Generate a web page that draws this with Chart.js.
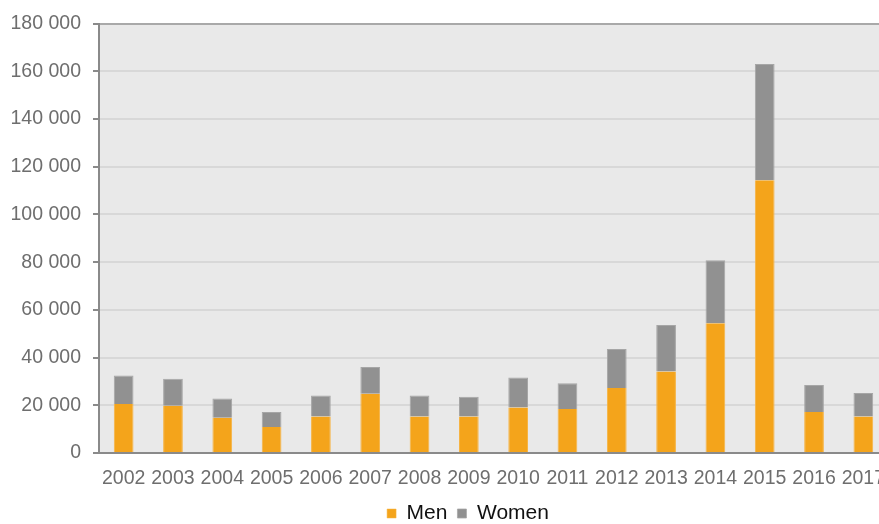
<!DOCTYPE html>
<html>
<head>
<meta charset="utf-8">
<script src="https://cdn.jsdelivr.net/npm/chart.js@4/dist/chart.umd.min.js"></script>
<style>
  html, body { margin: 0; padding: 0; background: #fff; overflow: hidden; }
  #chart { width: 888px; height: 524px; }
</style>
</head>
<body>
<canvas id="chart" width="888" height="524"></canvas>
<script>
// values
const years = ['2002', '2003', '2004', '2005', '2006', '2007', '2008', '2009',
               '2010', '2011', '2012', '2013', '2014', '2015', '2016', '2017'];
const men = [20500, 19800, 14800, 10900, 15300, 24800, 15300, 15300,
             19100, 18400, 27300, 34200, 54400, 114400, 17200, 15300];
const women = [12000, 11300, 8100, 6300, 8800, 11300, 8800, 8300,
               12600, 10800, 16300, 19500, 26400, 48700, 11300, 9900];

const plotBg = {
    id: 'plotBg',
    afterLayout(chart) {
        // legend in the original sits a bit right of the page centre
        chart.legend.left += 24;
        chart.legend.right += 24;
    },
    beforeDraw(chart) {
        const a = chart.chartArea;
        const ctx = chart.ctx;
        ctx.save();
        ctx.fillStyle = '#e9e9e9';
        ctx.fillRect(a.left, a.top, a.right - a.left, a.bottom - a.top);
        ctx.restore();
    }
};

const ctx = document.getElementById('chart');
const chart = new Chart(ctx, {
    type: 'bar',
    data: {
        labels: years,
        datasets: [{
            label: 'Men',
            data: men,
            backgroundColor: '#f4a41b',
            borderColor: '#f6b445',
            borderWidth: { left: 1, right: 1, top: 0, bottom: 0 },
            barPercentage: 0.4,
            categoryPercentage: 1
        }, {
            label: 'Women',
            data: women,
            backgroundColor: '#919191',
            borderColor: '#a6a6a6',
            borderWidth: { left: 1, right: 1, top: 1, bottom: 0 },
            barPercentage: 0.4,
            categoryPercentage: 1
        }]
    },
    options: {
        responsive: false,
        animation: false,
        layout: {
            // canvas is wider than the window: the plot runs past the right edge
            padding: { left: 0, top: 23, right: 0, bottom: -10 }
        },
        plugins: {
            legend: {
                display: true,
                position: 'bottom',
                labels: {
                    boxWidth: 9,
                    boxHeight: 9,
                    padding: 10,
                    color: '#111',
                    font: { family: 'Liberation Sans', size: 21 }
                }
            },
            tooltip: { enabled: false }
        },
        scales: {
            x: {
                stacked: true,
                afterFit(scale) {
                    scale.height = 40;
                    scale.paddingLeft = 0;
                    scale.paddingRight = 0;
                },
                grid: { drawOnChartArea: false, drawTicks: false },
                border: { color: '#8a8a8a', width: 2 },
                ticks: {
                    color: '#6e6e6e',
                    padding: 14,
                    maxRotation: 0,
                    autoSkip: false,
                    font: { family: 'Liberation Sans', size: 19.5 }
                }
            },
            y: {
                stacked: true,
                min: 0,
                max: 180000,
                afterFit(scale) { scale.width = 99; },
                grid: {
                    color: c => c.tick && c.tick.value === 180000 ? '#a9a9a9' : '#d8d8d8',
                    lineWidth: 2,
                    tickLength: 6,
                    tickColor: '#8a8a8a'
                },
                border: { color: '#8a8a8a', width: 2 },
                ticks: {
                    stepSize: 20000,
                    color: '#6e6e6e',
                    padding: 12,
                    font: { family: 'Liberation Sans', size: 19.5 },
                    callback: v => v.toString().replace(/\B(?=(\d{3})+(?!\d))/g, ' ')
                }
            }
        }
    },
    plugins: [plotBg]
});
</script>
</body>
</html>
